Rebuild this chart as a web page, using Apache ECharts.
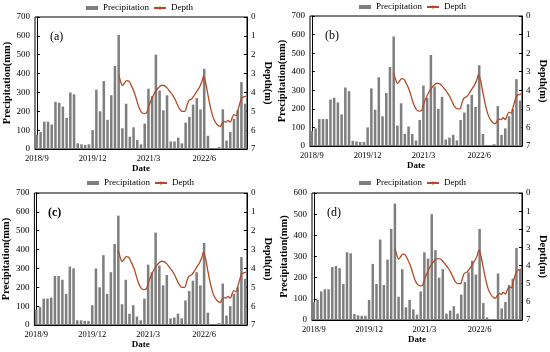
<!DOCTYPE html>
<html><head><meta charset="utf-8">
<script src="https://cdn.jsdelivr.net/npm/echarts@6/dist/echarts.min.js"></script>
<style>html,body{margin:0;padding:0;background:#fff}#c{width:550px;height:352px}</style>
</head><body><div id="c"></div>
<script>
const months = ['2018/9','2018/10','2018/11','2018/12','2019/1','2019/2','2019/3','2019/4','2019/5','2019/6','2019/7','2019/8','2019/9','2019/10','2019/11','2019/12',
'2020/1','2020/2','2020/3','2020/4','2020/5','2020/6','2020/7','2020/8','2020/9','2020/10','2020/11','2020/12','2021/1','2021/2','2021/3',
'2021/4','2021/5','2021/6','2021/7','2021/8','2021/9','2021/10','2021/11','2021/12','2022/1','2022/2','2022/3','2022/4','2022/5','2022/6',
'2022/7','2022/8','2022/9','2022/10','2022/11','2022/12','2023/1','2023/2','2023/3','2023/4','2023/5'];
const precipA = [76,90,145,145,130,250,245,225,165,300,290,30,25,22,25,100,315,200,360,155,285,440,605,110,240,65,115,48,25,135,320,280,500,310,205,285,40,40,60,30,140,170,235,270,210,425,70,5,2,10,210,45,90,160,205,355,240];
const precipB = [80,95,145,145,145,250,260,235,170,315,295,28,25,22,22,100,310,195,370,160,285,425,590,110,230,65,105,65,30,140,325,260,490,320,200,265,35,45,60,30,140,180,225,275,210,435,65,5,2,10,215,60,95,160,200,360,245];
const precipC = [80,95,140,140,145,260,260,240,165,310,300,25,25,22,22,105,300,200,370,165,280,430,580,110,240,60,105,45,25,140,320,280,490,315,210,265,35,40,60,35,130,180,235,280,210,435,65,5,2,10,220,50,100,165,200,360,245];
const precipD = [85,95,135,145,145,250,255,245,170,320,315,28,22,20,20,95,265,170,380,165,285,430,550,110,240,60,95,50,25,135,320,290,500,330,200,240,30,45,65,30,120,180,225,280,215,430,80,12,2,5,220,55,85,165,195,340,240];
const depthX = [22.0,22.5,23.0,23.6,24.1,24.8,25.4,26.1,26.8,27.4,28.1,28.8,29.5,30.1,30.8,31.4,32.1,32.9,33.6,34.3,35.0,35.7,36.4,37.1,37.8,38.4,39.1,39.8,40.4,40.9,41.6,42.3,43.0,43.75,44.4,44.8,45.4,45.9,46.6,47.3,48.0,48.75,49.3,49.8,50.4,50.9,51.4,52.0,52.5,53.0,53.6,54.1,54.6,55.1,55.6,56.25];
const depthY = [3.06,3.41,3.64,3.50,3.37,3.41,3.64,3.94,4.38,4.77,5.04,5.12,5.09,4.73,4.38,4.12,3.89,3.71,3.62,3.64,3.76,3.94,4.12,4.35,4.65,4.88,5.00,5.00,4.65,4.42,4.35,4.17,3.94,3.71,3.41,3.14,3.50,4.03,4.73,5.27,5.58,5.76,5.80,5.65,5.55,5.58,5.48,5.58,5.35,5.18,5.23,4.91,4.56,4.29,4.24,4.20];
const leftMax = [700,700,700,600];
const panelLabels = ['(a)','(b)','(c)','(d)'];

const FONT = 'Liberation Serif';
const BAR = '#7f7f7f', LINE = '#b34a26';
const grids = [
  {left:35, top:17, width:212, height:132},
  {left:310, top:16, width:212, height:130},
  {left:33, top:193, width:214, height:132},
  {left:312, top:193, width:210, height:127}
];
const legendPos = [{x:86,y:3.5},{x:359,y:2.5},{x:87,y:178.5},{x:359,y:178.5}];
const precip = [precipA, precipB, precipC, precipD];
const depthData = depthX.map((x,i)=>[x, depthY[i]]);

const option = {
  animation:false,
  textStyle:{fontFamily:FONT},
  grid: grids.map(g=>Object.assign({show:true, borderColor:'#000', borderWidth:1, containLabel:false}, g)),
  legend: legendPos.map(p=>({
    left:p.x, top:p.y, padding:[0,0], itemGap:4, itemWidth:12, itemHeight:4,
    textStyle:{fontFamily:FONT, fontSize:9, color:'#000'},
    data:[{name:'Precipitation', icon:'rect'},{name:'Depth'}]
  })),
  title: panelLabels.map((t,i)=>({
    text:t, left:grids[i].left+10, top:grids[i].top+9,
    textStyle:{fontFamily:FONT, fontSize:12, fontWeight: i===2?'bold':'normal', color:'#000'}
  })),
  xAxis: [],
  yAxis: [],
  series: []
};
for (let i=0;i<4;i++){
  option.xAxis.push({
    type:'category', gridIndex:i, data:months, boundaryGap:true,
    name:'Date', nameLocation:'middle', nameGap:15,
    nameTextStyle:{fontFamily:FONT, fontSize:9, fontWeight:'bold', color:'#000'},
    axisLine:{lineStyle:{color:'#000', width:1}},
    axisTick:{show:false},
    axisLabel:{interval:14, fontFamily:FONT, fontSize:8.5, color:'#000', margin:5}
  });
  option.xAxis.push({
    type:'value', gridIndex:i, min:-0.5, max:56.5, show:false
  });
  option.yAxis.push({
    type:'value', gridIndex:i, min:0, max:leftMax[i], interval:100,
    name:'Precipitation(mm)', nameLocation:'middle', nameGap:22, nameRotate:90,
    nameTextStyle:{fontFamily:FONT, fontSize:10.5, fontWeight:'bold', color:'#000'},
    axisLine:{show:true, lineStyle:{color:'#000'}},
    axisTick:{show:true, inside:true, length:3, lineStyle:{color:'#000'}},
    splitLine:{show:false},
    axisLabel:{fontFamily:FONT, fontSize:9, color:'#000', margin:5}
  });
  option.yAxis.push({
    type:'value', gridIndex:i, position:'right', min:0, max:7, interval:1, inverse:true,
    name:'Depth(m)', nameLocation:'middle', nameGap:15, nameRotate:-90,
    nameTextStyle:{fontFamily:FONT, fontSize:10.5, fontWeight:'bold', color:'#000'},
    axisLine:{show:true, lineStyle:{color:'#000'}},
    axisTick:{show:true, inside:true, length:3, lineStyle:{color:'#000'}},
    splitLine:{show:false},
    axisLabel:{fontFamily:FONT, fontSize:9, color:'#000', margin:4}
  });
  option.series.push({
    name:'Precipitation', type:'bar', xAxisIndex:2*i, yAxisIndex:2*i,
    data:precip[i], barCategoryGap:'32%', itemStyle:{color:BAR}
  });
  option.series.push({
    name:'Depth', type:'line', xAxisIndex:2*i+1, yAxisIndex:2*i+1,
    data:depthData, smooth:0.3, showSymbol:false, symbol:'none',
    lineStyle:{color:LINE, width:1.3}, itemStyle:{color:LINE}
  });
}
const chart = echarts.init(document.getElementById('c'), null, {renderer:'canvas'});
chart.setOption(option);
</script></body></html>
